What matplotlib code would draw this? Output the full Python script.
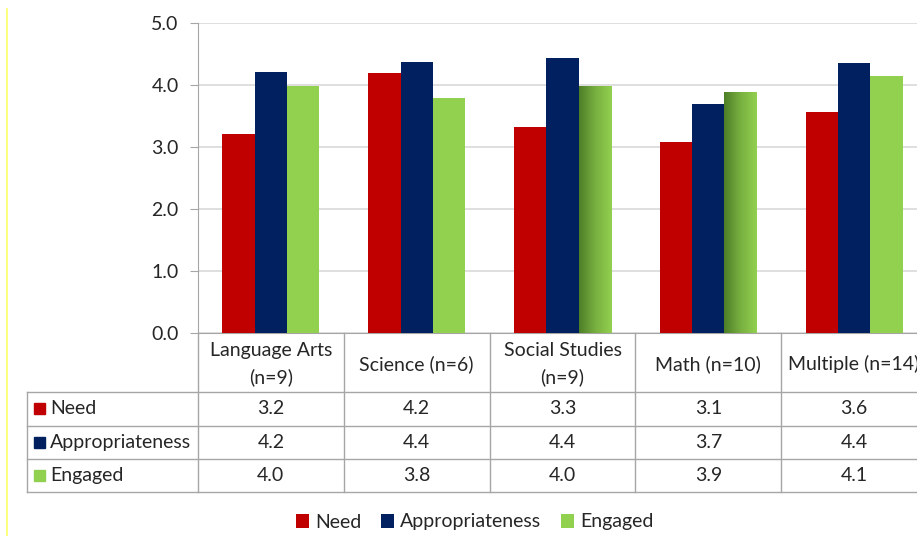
import matplotlib.pyplot as plt
import numpy as np
from matplotlib.colors import LinearSegmentedColormap
from matplotlib.lines import Line2D
from matplotlib.patches import Patch, Rectangle

plt.rcParams["font.family"] = ["Lato", "DejaVu Sans"]

categories = ["Language Arts\n(n=9)", "Science (n=6)", "Social Studies\n(n=9)",
              "Math (n=10)", "Multiple (n=14)"]
series = ["Need", "Appropriateness", "Engaged"]
need = [3.21, 4.19, 3.32, 3.08, 3.56]
appropriateness = [4.21, 4.37, 4.44, 3.69, 4.36]
engaged = [3.98, 3.79, 3.98, 3.89, 4.14]
y_ticks = [0.0, 1.0, 2.0, 3.0, 4.0, 5.0]

colors = ["#C00000", "#002060", "#92D050"]
grid_c = "#D9D9D9"
line_c = "#A6A6A6"
text_c = "#262626"
fs = 14

W, H = 917, 536
fig = plt.figure(figsize=(W / 100, H / 100), dpi=100)


def fx(px):
    return px / W


def fy(py):
    return 1 - py / H


# pixel layout
left = 198
cat_w = 145.8
right = left + cat_w * len(categories)
top, base, tab_bot = 23, 333, 492


def dx(px):
    return -0.5 + (px - left) / cat_w


ax = fig.add_axes([fx(left), fy(base), (right - left) / W, (base - top) / H])
x = np.arange(len(categories))
bw = 0.222
values = [need, appropriateness, engaged]
bar_sets = []
for i, (vals, c) in enumerate(zip(values, colors)):
    bars = ax.bar(x + (i - 1) * bw, vals, bw, color=c, zorder=3)
    bar_sets.append(bars)

# shaded green bars (Social Studies, Math)
green_grad = LinearSegmentedColormap.from_list("g", ["#4E7F28", "#78B040", "#92D050"])
grad = np.linspace(0, 1, 64).reshape(1, -1)
for j in [2, 3]:
    b = bar_sets[2][j]
    im = ax.imshow(grad, cmap=green_grad, aspect="auto", zorder=4,
                   extent=[b.get_x(), b.get_x() + b.get_width(), 0, b.get_height()])
    im.set_clip_path(b)

ax.set_xlim(-0.5, len(categories) - 0.5)
ax.set_ylim(0, 5)
ax.set_yticks(y_ticks)
ax.set_yticklabels([f"{t:.1f}" for t in y_ticks])
ax.set_xticks([])
ax.grid(axis="y", color=grid_c, lw=1.2, zorder=0)
for s in ["top", "right"]:
    ax.spines[s].set_visible(False)
for s in ["left", "bottom"]:
    ax.spines[s].set_color(line_c)
ax.tick_params(axis="y", length=6, color=line_c, labelsize=fs, labelcolor=text_c, pad=8)

# data table
tab = fig.add_axes([fx(left), fy(tab_bot), (right - left) / W, (tab_bot - base) / H])
tab.set_xlim(-0.5, len(categories) - 0.5)
tab.set_ylim(tab_bot, base)
tab.axis("off")

row_lines = [392, 426, 459, 492]
row_mid = [408.5, 442.5, 475.5]
for yl in row_lines:
    tab.add_line(Line2D([dx(27), len(categories)], [yl, yl], color=line_c, lw=1, clip_on=False))
tab.add_line(Line2D([dx(27), dx(27)], [row_lines[0], tab_bot], color=line_c, lw=1, clip_on=False))
for k in range(len(categories) + 1):
    tab.add_line(Line2D([k - 0.5, k - 0.5], [base, tab_bot], color=line_c, lw=1, clip_on=False))

# last header is cut by the right edge, as in the source image
for k, cat in enumerate(categories):
    tab.text(k, 364, cat, ha="center", va="center", fontsize=fs, color=text_c,
             linespacing=1.65, clip_on=False)

for r, (name, vals, c) in enumerate(zip(series, values, colors)):
    ym = row_mid[r]
    tab.add_patch(Rectangle((dx(34), ym + 5.5), dx(45) - dx(34), -11, color=c, clip_on=False))
    tab.text(dx(50), ym, name, ha="left", va="center", fontsize=fs, color=text_c)
    for k, v in enumerate(vals):
        tab.text(k, ym, f"{v:.1f}", ha="center", va="center", fontsize=fs, color=text_c,
                 clip_on=False)

# legend
handles = [Patch(facecolor=c, edgecolor="none", label=s) for s, c in zip(series, colors)]
fig.legend(handles=handles, loc="center", bbox_to_anchor=(fx(474.5), fy(522)), ncol=3,
           frameon=False, fontsize=fs, handlelength=0.7, handleheight=0.7,
           handletextpad=0.3, columnspacing=1.0, labelcolor=text_c)

# yellow border line on the left
fig.add_artist(Line2D([fx(7), fx(7)], [fy(9), fy(536)], color="#FFFF66", lw=1.2))

fig.savefig("out.png", dpi=100)
